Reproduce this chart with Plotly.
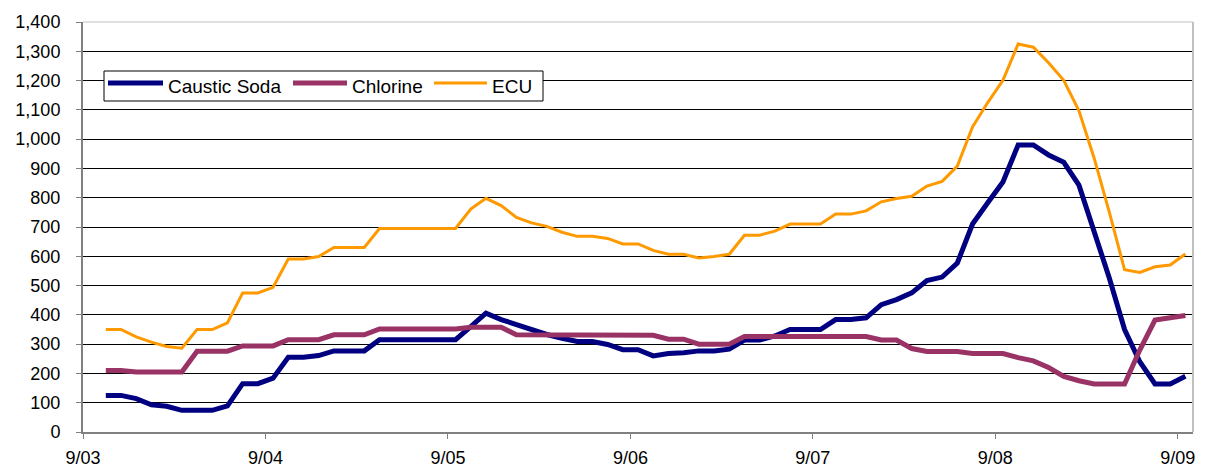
import pandas as pd
import plotly.graph_objects as go

# 2-hourly observations, 9/03 03:00 .. 9/09 01:00
times = pd.date_range("2009-09-03 03:00", periods=72, freq="2h")

caustic_soda = [125, 125, 114, 93, 88, 74, 74, 74, 89, 165, 165, 184,
                255, 255, 261, 277, 277, 277, 315, 315, 315, 315, 315, 315,
                360, 406, 384, 367, 347, 333, 320, 309, 309, 299, 281, 281,
                260, 268, 271, 277, 277, 283, 314, 314, 328, 350, 350, 350,
                384, 384, 390, 435, 452, 475, 517, 529, 577, 710, 783, 854,
                980, 980, 946, 921, 843, 690, 525, 350, 240, 164, 164, 190]

chlorine = [210, 210, 205, 205, 205, 205, 276, 276, 276, 294, 294, 294,
            315, 315, 315, 332, 332, 332, 352, 352, 352, 352, 352, 352,
            358, 358, 358, 332, 332, 332, 332, 332, 332, 332, 332, 332,
            330, 317, 317, 300, 300, 300, 326, 326, 326, 326, 326, 326,
            326, 326, 326, 314, 314, 285, 275, 275, 275, 268, 268, 268,
            254, 243, 220, 190, 175, 164, 164, 164, 280, 382, 390, 398]

ecu = [350, 350, 325, 307, 292, 286, 350, 350, 373, 475, 475, 494,
       591, 591, 599, 630, 630, 630, 695, 695, 695, 695, 695, 695,
       761, 798, 773, 733, 714, 702, 682, 668, 668, 661, 642, 642,
       620, 607, 607, 594, 599, 607, 672, 672, 686, 710, 710, 710,
       744, 744, 755, 786, 797, 805, 840, 856, 908, 1042, 1125, 1201,
       1325, 1314, 1261, 1201, 1097, 935, 750, 554, 545, 564, 570, 608]

series = [
    ("Caustic Soda", caustic_soda, "#000080", 5),
    ("Chlorine", chlorine, "#993366", 5),
    ("ECU", ecu, "#FF9900", 3),
]

FONT = "Liberation Sans, Arial, sans-serif"

# The page body has an 8px margin, so the figure is sized/offset to compensate.
OFF = 8
W, H = 1197, 459
L, R, T, B = 75, 12, 14, 35
PW, PH = W - L - R, H - T - B


def px(xp):
    """window pixel x -> paper x"""
    return (xp - OFF - L) / PW


def py(yp):
    """window pixel y -> paper y"""
    return (OFF + H - B - yp) / PH


fig = go.Figure()
for name, vals, color, width in series:
    fig.add_trace(go.Scatter(x=times, y=vals, name=name, mode="lines",
                             line=dict(color=color, width=width),
                             showlegend=False))

shapes = [
    dict(type="line", xref="paper", yref="paper", x0=0, x1=1, y0=1, y1=1,
         line=dict(color="#c0c0c0", width=1), layer="above"),
    dict(type="line", xref="paper", yref="paper", x0=1, x1=1, y0=0, y1=1,
         line=dict(color="#c0c0c0", width=2), layer="above"),
    # legend box
    dict(type="rect", xref="paper", yref="paper",
         x0=px(104), x1=px(543), y0=py(101), y1=py(71),
         line=dict(color="black", width=1), fillcolor="white", layer="above"),
]
annotations = []
legend_pos = [(108, 163, 166), (293, 347, 350), (434, 487, 490)]
for (name, _, color, width), (lx0, lx1, tx) in zip(series, legend_pos):
    shapes.append(dict(type="line", xref="paper", yref="paper",
                       x0=px(lx0), x1=px(lx1), y0=py(83), y1=py(83),
                       line=dict(color=color, width=width), layer="above"))
    annotations.append(dict(text=name, xref="paper", yref="paper",
                            x=px(tx), y=py(86), xanchor="left", yanchor="middle",
                            showarrow=False, font=dict(size=19, color="black")))

fig.update_layout(
    width=W, height=H,
    margin=dict(l=L, r=R, t=T, b=B),
    paper_bgcolor="white", plot_bgcolor="white",
    font=dict(family=FONT, size=18, color="black"),
    showlegend=False,
    shapes=shapes, annotations=annotations,
)

fig.update_xaxes(
    type="date", automargin=False,
    range=["2009-09-03 00:00", "2009-09-09 02:00"],
    tick0="2009-09-03", dtick=86400000, tickformat="%-m/%d",
    showgrid=False, zeroline=False,
    showline=True, linecolor="#808080", linewidth=2,
    ticks="outside", ticklen=5, tickcolor="#808080", tickwidth=1,
    tickfont=dict(size=18), ticklabelstandoff=3,
)
fig.update_yaxes(
    automargin=False,
    range=[0, 1400], dtick=100, tickformat=",",
    showgrid=True, gridcolor="black", gridwidth=1, zeroline=False,
    showline=True, linecolor="#808080", linewidth=2,
    ticks="outside", ticklen=5, tickcolor="#808080", tickwidth=1,
    tickfont=dict(size=18), ticklabelstandoff=12,
)

fig.write_html("out.html")
